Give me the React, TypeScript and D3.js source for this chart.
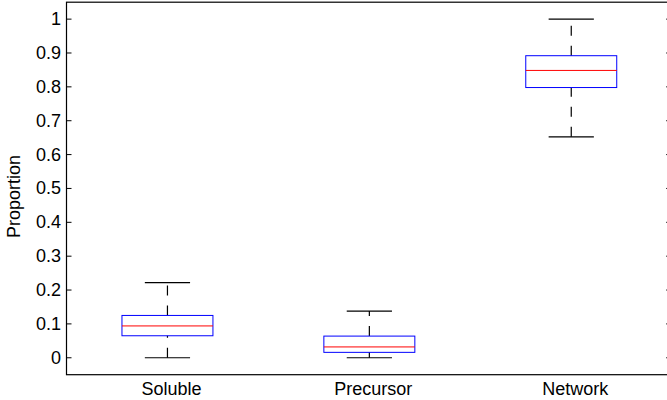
import React from "react";
import * as d3 from "d3";

const categories = ["Soluble", "Precursor", "Network"];
const upperWhisker = [0.222, 0.138, 1.0];
const q3 = [0.125, 0.064, 0.892];
const medians = [0.094, 0.032, 0.8485];
const q1 = [0.065, 0.016, 0.798];
const lowerWhisker = [0, 0, 0.6525];
const yTicks = [0, 0.1, 0.2, 0.3, 0.4, 0.5, 0.6, 0.7, 0.8, 0.9, 1];
const yTickLabels = ["0", "0.1", "0.2", "0.3", "0.4", "0.5", "0.6", "0.7", "0.8", "0.9", "1"];

const W = 667;
const H = 400;
const FONT = "'Liberation Sans', Arial, sans-serif";

export default function App() {
  const x = d3.scaleLinear().domain([0.5, 3.5]).range([66.5, 672.2]);
  const y = d3.scaleLinear().domain([-0.05, 1.05]).range([374.7, 2.2]);
  const left = x(0.5);
  const right = x(3.5);
  const top = y(1.05);
  const bottom = y(-0.05);
  const boxHalf = 0.2253;
  const capHalf = 0.112;

  return (
    <svg width={W} height={H} style={{ position: "absolute", left: 0, top: 0, background: "#fff" }}>
      <rect x={0} y={0} width={W} height={H} fill="#fff" />
      {/* boxes */}
      {categories.map((c, i) => {
        const cx = x(i + 1);
        const bx0 = x(i + 1 - boxHalf);
        const bx1 = x(i + 1 + boxHalf);
        const cx0 = x(i + 1 - capHalf);
        const cx1 = x(i + 1 + capHalf);
        return (
          <g key={c}>
            <line x1={cx} x2={cx} y1={y(q3[i])} y2={y(upperWhisker[i])} stroke="#000" strokeWidth={1.2} strokeDasharray="10,10" />
            <line x1={cx} x2={cx} y1={y(lowerWhisker[i])} y2={y(q1[i])} stroke="#000" strokeWidth={1.2} strokeDasharray="10,10" />
            <line x1={cx0} x2={cx1} y1={y(upperWhisker[i])} y2={y(upperWhisker[i])} stroke="#000" strokeWidth={1.2} />
            <line x1={cx0} x2={cx1} y1={y(lowerWhisker[i])} y2={y(lowerWhisker[i])} stroke="#000" strokeWidth={1.2} />
            <rect x={bx0} y={y(q3[i])} width={bx1 - bx0} height={y(q1[i]) - y(q3[i])} fill="none" stroke="#0000ff" strokeWidth={1} />
            <line x1={bx0} x2={bx1} y1={y(medians[i])} y2={y(medians[i])} stroke="#ff0000" strokeWidth={1} />
          </g>
        );
      })}
      {/* axes frame */}
      <rect x={left} y={top} width={right - left} height={bottom - top} fill="none" stroke="#000" strokeWidth={1.2} />
      {yTicks.map((t, i) => (
        <g key={i}>
          <line x1={left} x2={left + 5} y1={y(t)} y2={y(t)} stroke="#000" strokeWidth={1} />
          <line x1={right - 6} x2={right} y1={y(t)} y2={y(t)} stroke="#000" strokeWidth={1} />
          <text x={61} y={y(t)} textAnchor="end" dominantBaseline="central" fontFamily={FONT} fontSize={18} fill="#000">
            {yTickLabels[i]}
          </text>
        </g>
      ))}
      {categories.map((c, i) => (
        <text key={c} x={x(i + 1) + 4} y={395} textAnchor="middle" fontFamily={FONT} fontSize={18} fill="#000">
          {c}
        </text>
      ))}
      <text transform="translate(19.5,196.5) rotate(-90)" textAnchor="middle" fontFamily={FONT} fontSize={18} fill="#000">
        Proportion
      </text>
    </svg>
  );
}
